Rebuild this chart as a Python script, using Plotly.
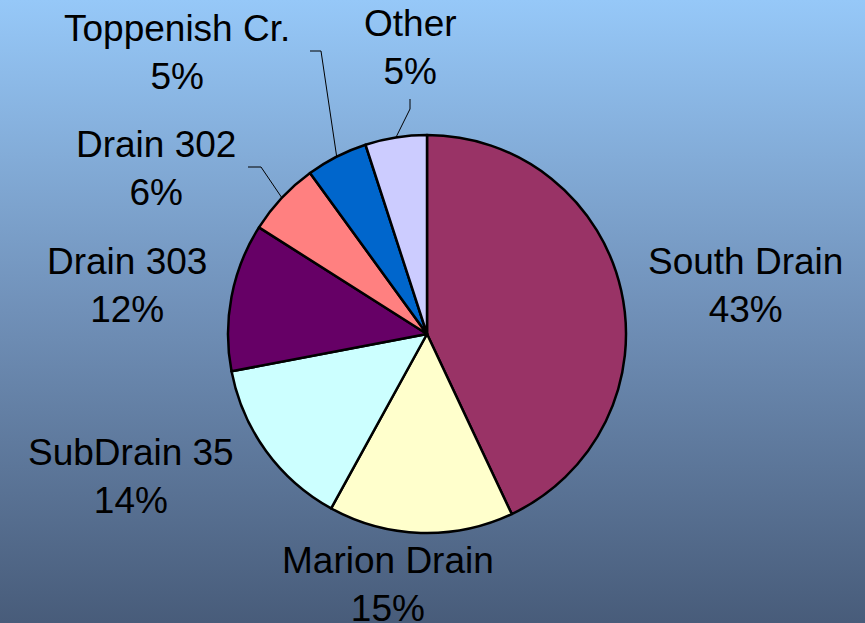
import math
import plotly.graph_objects as go

labels = ["South Drain", "Marion Drain", "SubDrain 35", "Drain 303", "Drain 302", "Toppenish Cr.", "Other"]
values = [43, 15, 14, 12, 6, 5, 5]
colors = ["#993366", "#FFFFCC", "#CCFFFF", "#660066", "#FF8080", "#0066CC", "#CCCCFF"]

W, H = 865, 623
CX, CY, R = 427, 334, 199

# label block centers (pixels)
label_pos = {
    "South Drain": (745, 285),
    "Marion Drain": (388, 584),
    "SubDrain 35": (131, 476),
    "Drain 303": (127, 285),
    "Drain 302": (156, 168),
    "Toppenish Cr.": (177, 52),
    "Other": (410, 47),
}
# leader line label-side points (pixels)
leader_start = {
    "Drain 302": [(248, 167), (261, 167)],
    "Toppenish Cr.": [(310, 51), (321, 51)],
    "Other": [(410, 99), (410, 109)],
}

fig = go.Figure()

# gradient background (light blue at top, slate at bottom)
fig.add_trace(go.Scatter(
    x=[0, W, W, 0, 0], y=[0, 0, H, H, 0], mode="lines", fill="toself",
    line=dict(width=0), hoverinfo="skip", showlegend=False,
    fillgradient=dict(type="vertical",
                      colorscale=[[0, "#485C7A"], [0.5, "#7090B8"], [1, "#96C8F8"]]),
))

fig.add_trace(go.Pie(
    labels=labels, values=values, sort=False, direction="clockwise", rotation=0,
    marker=dict(colors=colors, line=dict(color="black", width=2.5)),
    textinfo="none", hoverinfo="label+percent", showlegend=False,
    domain=dict(x=[(CX - R) / W, (CX + R) / W], y=[(H - CY - R) / H, (H - CY + R) / H]),
))

total = sum(values)
annotations = []
shapes = []
cum = 0
for lab, v in zip(labels, values):
    pct = round(100 * v / total)
    x, y = label_pos[lab]
    annotations.append(dict(
        x=x, y=y, xref="x", yref="y", text=f"{lab}<br>{pct}%", showarrow=False,
        xanchor="center", yanchor="middle", align="center",
        font=dict(family="Liberation Sans, Arial, sans-serif", size=37, color="black"),
    ))
    mid = (cum + v / 2) / total * 2 * math.pi
    cum += v
    if lab in leader_start:
        ex = CX + R * math.sin(mid)
        ey = CY - R * math.cos(mid)
        pts = leader_start[lab] + [(ex, ey)]
        path = "M " + " L ".join(f"{px:.1f},{py:.1f}" for px, py in pts)
        shapes.append(dict(type="path", path=path, xref="x", yref="y",
                           line=dict(color="black", width=1)))

fig.update_layout(
    width=W, height=H, margin=dict(l=0, r=0, t=0, b=0),
    paper_bgcolor="#7090B8", plot_bgcolor="rgba(0,0,0,0)",
    xaxis=dict(range=[0, W], visible=False, fixedrange=True),
    yaxis=dict(range=[H, 0], visible=False, fixedrange=True),
    annotations=annotations, shapes=shapes,
)

fig.write_html("out.html", config={"displayModeBar": False},
               post_script="document.body.style.margin='0px';document.body.style.overflow='hidden';")
